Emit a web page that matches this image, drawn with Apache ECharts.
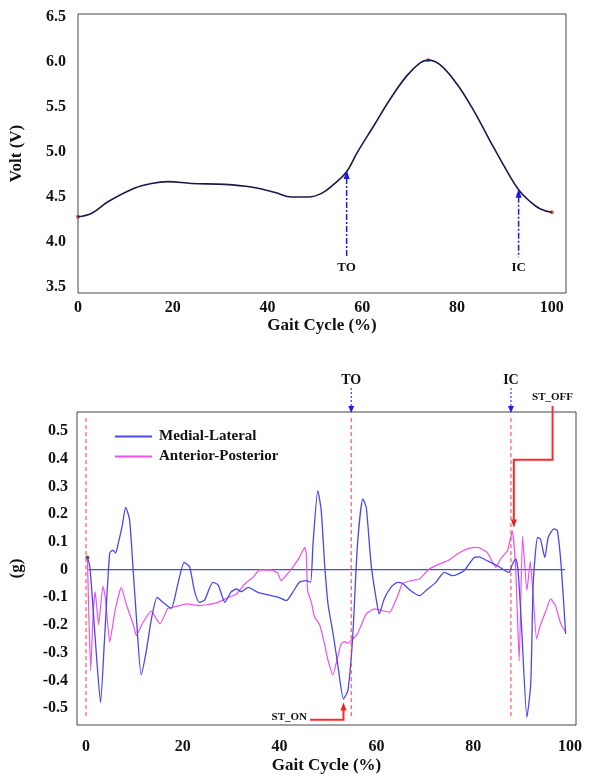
<!DOCTYPE html>
<html>
<head>
<meta charset="utf-8">
<script src="https://cdn.jsdelivr.net/npm/echarts@6/dist/echarts.min.js"></script>
<style>
html,body{margin:0;padding:0;background:#fff;}
#chart{width:590px;height:774px;}
</style>
</head>
<body>
<div id="chart"></div>
<script>
// ---------- DATA ----------
// Top panel: Volt vs gait cycle
const voltPoints = [[0,4.28],[2.9,4.32],[6.4,4.45],[12,4.6],[15.5,4.65],[19,4.67],[24,4.65],[31,4.64],[36.6,4.61],[41.6,4.55],[45.1,4.50],[48.6,4.50],[51.4,4.54],[54.2,4.65],[56.7,4.78],[58.9,4.99],[62.3,5.28],[65.8,5.58],[69.3,5.84],[72.2,5.99],[73.9,6.02],[76.4,5.97],[79.9,5.76],[83.4,5.47],[86.9,5.13],[90.4,4.80],[93.0,4.58],[95.4,4.45],[97.5,4.37],[100,4.33]];
const voltMarks = [[0,4.28],[73.9,6.02],[100,4.33]];
const topTicksX = [0,20,40,60,80,100];
const topTicksY = [3.5,4.0,4.5,5.0,5.5,6.0,6.5];
const topEvents = [{name:'TO', x:56.7, y:4.80},{name:'IC', x:93.0, y:4.59}];

// Bottom panel: acceleration (g)
const mlPoints = [[0.3,0.044],[0.8,0.01],[1.5,-0.15],[2.2,-0.32],[3.0,-0.48],[3.8,-0.26],[4.9,0.06],[5.6,0.07],[6.1,0.06],[6.6,0.09],[7.5,0.16],[8.2,0.225],[9.0,0.18],[9.7,0.01],[10.4,-0.17],[11.4,-0.38],[12.4,-0.30],[13.6,-0.17],[14.7,-0.10],[15.9,-0.118],[17.6,-0.14],[19.0,-0.05],[20.3,0.026],[21.4,0.01],[22.4,-0.076],[23.4,-0.118],[24.5,-0.11],[26.2,-0.046],[27.3,-0.055],[28.7,-0.118],[30.0,-0.08],[31.1,-0.07],[32.1,-0.08],[33.5,-0.064],[35.5,-0.082],[38.3,-0.094],[39.8,-0.1],[41.4,-0.112],[42.7,-0.082],[44.1,-0.046],[45.5,-0.04],[46.4,-0.046],[46.9,0.093],[47.9,0.285],[48.6,0.213],[49.3,0.02],[50.0,-0.124],[51.0,-0.226],[52.0,-0.34],[53.2,-0.467],[54.1,-0.437],[55.1,-0.244],[56.1,0.093],[57.2,0.255],[57.9,0.225],[58.9,0.02],[59.9,-0.1],[60.6,-0.16],[61.6,-0.106],[63.0,-0.064],[64.4,-0.046],[65.4,-0.05],[67.1,-0.076],[68.9,-0.094],[70.6,-0.07],[72.3,-0.046],[74.0,-0.01],[75.7,-0.022],[78.1,-0.004],[80.2,0.044],[81.2,0.046],[82.9,0.032],[85.0,0.014],[87.4,-0.01],[88.1,0.02],[88.8,0.039],[89.3,-0.01],[90.0,-0.208],[91.1,-0.533],[91.9,-0.41],[92.4,-0.05],[93.3,0.116],[93.9,0.11],[94.8,0.044],[95.5,0.116],[96.7,0.147],[97.4,0.14],[98.2,0.008],[99.1,-0.232]];
const apPoints = [[0.3,0.04],[0.96,-0.365],[1.5,-0.15],[1.9,-0.08],[2.6,-0.2],[3.5,-0.06],[4.0,-0.1],[4.9,-0.262],[6.0,-0.148],[7.3,-0.064],[8.3,-0.124],[9.8,-0.2],[10.4,-0.238],[11.8,-0.19],[13.5,-0.15],[14.6,-0.18],[15.3,-0.196],[16.9,-0.14],[18.0,-0.136],[20.8,-0.124],[23.5,-0.13],[26.9,-0.12],[29.0,-0.104],[31.1,-0.088],[32.8,-0.052],[34.5,-0.028],[35.9,-0.001],[38.3,-0.002],[39.6,-0.012],[40.3,-0.04],[41.4,-0.02],[42.7,0.008],[44.1,0.044],[45.2,0.08],[45.5,0.06],[45.8,-0.076],[46.6,-0.12],[47.2,-0.17],[48.3,-0.2],[49.3,-0.27],[49.9,-0.32],[51.0,-0.38],[52.0,-0.317],[52.7,-0.268],[53.4,-0.26],[54.2,-0.265],[54.8,-0.256],[56.1,-0.232],[57.9,-0.16],[59.6,-0.142],[62.7,-0.154],[64.4,-0.094],[65.4,-0.05],[67.1,-0.04],[68.9,-0.034],[70.9,0.002],[73.0,0.02],[74.7,0.032],[76.8,0.057],[78.8,0.075],[80.9,0.08],[82.9,0.062],[84.7,0.008],[85.7,0.04],[87.1,0.069],[88.1,0.14],[88.8,-0.005],[89.5,-0.33],[90.2,0.12],[91.1,-0.076],[91.8,0.03],[92.4,-0.1],[93.1,-0.25],[93.9,-0.2],[95.0,-0.15],[96.0,-0.106],[97.0,-0.13],[98.1,-0.196],[99.1,-0.225]];
const zeroLine = [[0.5,0],[99,0]];
const botTicksX = [0,20,40,60,80,100];
const botTicksY = [-0.5,-0.4,-0.3,-0.2,-0.1,0,0.1,0.2,0.3,0.4,0.5];
const botEvents = [{name:'TO', x:54.8},{name:'IC', x:87.8}];
const stanceStartX = 0;
const stOff = {labelX:96.4, elbowY:0.397, x:88.4, tipY:0.152};
const stOn = {labelX:42, startX:46.3, x:53.2, baseY:-0.542, tipY:-0.48};

// ---------- CHART ----------
const FONT = '"Liberation Serif", "Times New Roman", serif';
const chart = echarts.init(document.getElementById('chart'), null, {renderer:'canvas'});
const labelStyle = {color:'#111', fontFamily:FONT, fontWeight:'bold', fontSize:16};
const nameStyle = {color:'#111', fontFamily:FONT, fontWeight:'bold', fontSize:17};
const BLUE = '#4848ee', PINK = '#f050ee';

chart.setOption({
  animation:false,
  backgroundColor:'#fff',
  grid:[
    {left:78, top:14, right:24, bottom:481, show:true, borderColor:'#444', borderWidth:1, backgroundColor:'#fff',
     containLabel:false, outerBoundsMode:'none'},
    {left:77, top:412, right:14, bottom:49, show:true, borderColor:'#444', borderWidth:1, backgroundColor:'#fff',
     containLabel:false, outerBoundsMode:'none'}
  ],
  legend:{
    show:true, orient:'vertical', left:110, top:424, itemWidth:37, itemHeight:2, itemGap:5, icon:'rect',
    data:['Medial-Lateral','Anterior-Posterior'],
    textStyle:{color:'#111', fontFamily:FONT, fontWeight:'bold', fontSize:15, padding:[0,0,0,2]}
  },
  xAxis:[
    {gridIndex:0, type:'value', min:0, max:103,
     axisLine:{show:false}, axisTick:{show:false}, splitLine:{show:false},
     axisLabel:Object.assign({customValues:topTicksX, margin:7}, labelStyle),
     name:'Gait Cycle (%)', nameLocation:'middle', nameGap:23, nameTextStyle:nameStyle},
    {gridIndex:1, type:'value', min:-1.86, max:101.24,
     axisLine:{show:false}, axisTick:{show:false}, splitLine:{show:false},
     axisLabel:Object.assign({customValues:botTicksX, margin:14}, labelStyle),
     name:'Gait Cycle (%)', nameLocation:'middle', nameGap:32, nameTextStyle:nameStyle}
  ],
  yAxis:[
    {gridIndex:0, type:'value', min:3.433, max:6.533,
     axisLine:{show:false}, axisTick:{show:false}, splitLine:{show:false},
     axisLabel:Object.assign({customValues:topTicksY, margin:12, formatter:v=>Number(v).toFixed(1)}, labelStyle),
     name:'Volt (V)', nameLocation:'middle', nameGap:53, nameTextStyle:nameStyle},
    {gridIndex:1, type:'value', min:-0.561, max:0.569,
     axisLine:{show:false}, axisTick:{show:false}, splitLine:{show:false},
     axisLabel:Object.assign({customValues:botTicksY, margin:9, formatter:v=>Math.abs(v)<1e-9?'0':Number(v).toFixed(1)}, labelStyle),
     name:'(g)', nameLocation:'middle', nameGap:52, nameTextStyle:nameStyle}
  ],
  series:[
    {type:'line', name:'Volt', xAxisIndex:0, yAxisIndex:0, data:voltPoints, smooth:0.4, symbol:'none',
     lineStyle:{color:'#1a1a4a', width:1.6}},
    {type:'scatter', name:'VoltMarks', xAxisIndex:0, yAxisIndex:0, data:voltMarks, symbolSize:4,
     itemStyle:{color:'#e02020'}},
    {type:'line', name:'Zero', xAxisIndex:1, yAxisIndex:1, data:zeroLine, symbol:'none',
     lineStyle:{color:BLUE, width:1.3}},
    {type:'line', name:'Anterior-Posterior', xAxisIndex:1, yAxisIndex:1, data:apPoints, smooth:0.15, symbol:'none',
     lineStyle:{color:PINK, width:1.2}, itemStyle:{color:PINK}},
    {type:'line', name:'Medial-Lateral', xAxisIndex:1, yAxisIndex:1, data:mlPoints, smooth:0.2, symbol:'none',
     lineStyle:{color:BLUE, width:1.3}, itemStyle:{color:BLUE}},
    {type:'scatter', name:'Start', xAxisIndex:1, yAxisIndex:1, data:[mlPoints[0]], symbolSize:4,
     itemStyle:{color:'#333'}}
  ]
});

// ---------- ANNOTATIONS (positioned through the chart's own scales) ----------
function P(gi, pt){ return chart.convertToPixel({seriesIndex: gi===0?0:2}, pt); }
function tri(tip, dir, w, h, color){
  const [x,y] = tip;
  const pts = dir==='up' ? [[x,y],[x-w/2,y+h],[x+w/2,y+h]] : [[x,y],[x-w/2,y-h],[x+w/2,y-h]];
  return {type:'polygon', shape:{points:pts}, style:{fill:color}, z:20};
}
function txt(x,y,t,size){
  return {type:'text', x:x, y:y, z:20, style:{text:t, fill:'#111', font:'bold '+size+'px '+FONT, textAlign:'center', textVerticalAlign:'middle'}};
}
const g = [];
// top panel event arrows
const topLabelV = 3.71, topLineStartV = 3.83;
topEvents.forEach(e=>{
  const tip = P(0,[e.x,e.y]);
  const base = P(0,[e.x,topLineStartV]);
  g.push({type:'line', z:19, shape:{x1:tip[0], y1:tip[1]+8, x2:base[0], y2:base[1]},
          style:{stroke:'#1818e8', lineWidth:1.5, lineDash:[6,2,2,2]}});
  g.push(tri(tip,'up',6,9,'#1818e8'));
  const lp = P(0,[e.x,topLabelV]);
  g.push(txt(lp[0], lp[1], e.name, 13));
});
// bottom panel
const topY = P(1,[0,0.569])[1];
const dashTop = 0.547, dashBot = -0.54;
[stanceStartX].concat(botEvents.map(e=>e.x)).forEach(x=>{
  const a = P(1,[x,dashTop]), b = P(1,[x,dashBot]);
  g.push({type:'line', z:18, shape:{x1:a[0], y1:a[1], x2:b[0], y2:b[1]},
          style:{stroke:'#ff3a3a', lineWidth:1, lineDash:[4,3]}});
});
botEvents.forEach(e=>{
  const x = P(1,[e.x,0])[0];
  g.push({type:'line', z:19, shape:{x1:x, y1:topY-24, x2:x, y2:topY-5},
          style:{stroke:'#3a3af0', lineWidth:1.2, lineDash:[2,2]}});
  g.push(tri([x,topY+1],'down',6,7,'#2020e0'));
  g.push(txt(x, topY-32, e.name, 14));
});
// ST_OFF
{
  const lx = P(1,[stOff.labelX,0])[0];
  const elbow = P(1,[stOff.labelX, stOff.elbowY]);
  const corner = P(1,[stOff.x, stOff.elbowY]);
  const tip = P(1,[stOff.x, stOff.tipY]);
  g.push(txt(lx, topY-15, 'ST_OFF', 11));
  g.push({type:'polyline', z:21, shape:{points:[[lx,topY-6],[elbow[0],elbow[1]],[corner[0],corner[1]],[tip[0],tip[1]-6]]},
          style:{stroke:'#ff2a2a', lineWidth:2, fill:null}});
  g.push(tri(tip,'down',6,8,'#ee1a1a'));
}
// ST_ON
{
  const lp = P(1,[stOn.labelX, -0.531]);
  const a = P(1,[stOn.startX, stOn.baseY]);
  const c = P(1,[stOn.x, stOn.baseY]);
  const tip = P(1,[stOn.x, stOn.tipY]);
  g.push(txt(lp[0], lp[1], 'ST_ON', 11));
  g.push({type:'polyline', z:21, shape:{points:[[a[0],a[1]],[c[0],c[1]],[tip[0],tip[1]+6]]},
          style:{stroke:'#ff2a2a', lineWidth:2, fill:null}});
  g.push(tri(tip,'up',6,8,'#ee1a1a'));
}
chart.setOption({graphic:g});
</script>
</body>
</html>
